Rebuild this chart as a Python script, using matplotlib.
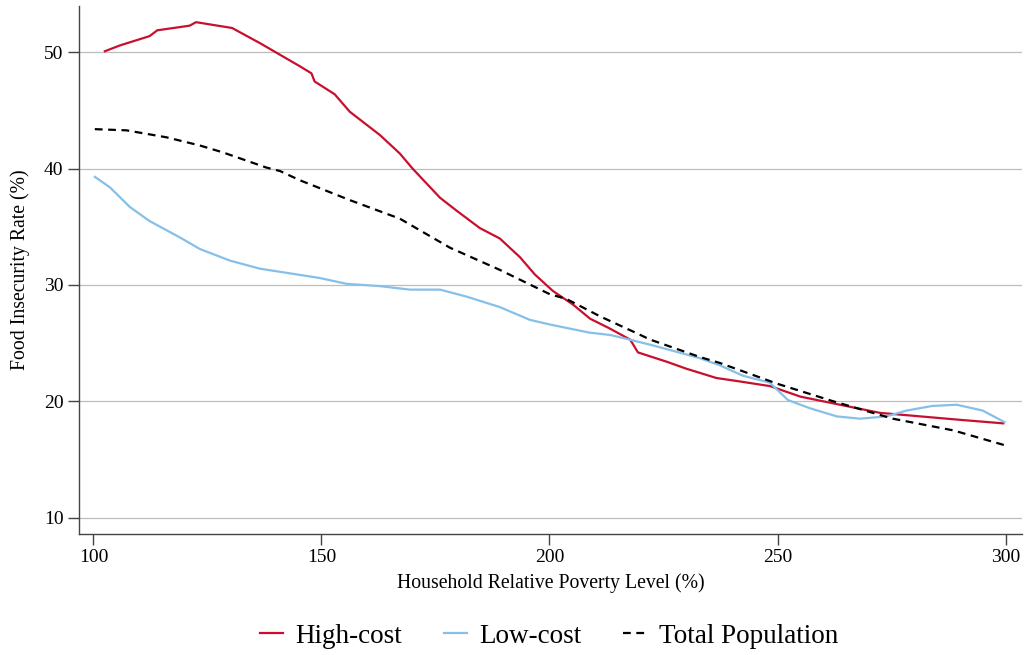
import matplotlib.pyplot as plt

plt.rcParams['font.family'] = ['Liberation Serif', 'DejaVu Serif']

# poverty level (%) and food insecurity rate (%) for each group
high_x = [102.5, 105.8, 112.3, 114.0, 121.1, 122.5, 130.4, 136.5, 145.3, 147.8, 148.5,
          152.9, 156.2, 162.8, 167.2, 170.0, 176.0, 179.6, 184.7, 189.1, 193.5,
          196.8, 200.7, 205.2, 208.9, 213.0, 217.7, 219.4, 225.7, 230.0, 236.6,
          241.8, 248.4, 255.0, 263.7, 272.5, 281.3, 290.1, 299.5]
high_y = [50.1, 50.6, 51.4, 51.9, 52.3, 52.6, 52.1, 50.8, 48.8, 48.2, 47.5,
          46.4, 44.9, 42.9, 41.3, 40.0, 37.5, 36.4, 34.9, 34.0, 32.4,
          30.9, 29.5, 28.3, 27.1, 26.3, 25.3, 24.2, 23.4, 22.8, 22.0,
          21.7, 21.3, 20.4, 19.7, 19.0, 18.7, 18.4, 18.1]

low_x = [100.3, 103.6, 108.0, 112.3, 118.9, 123.3, 129.9, 136.5, 143.1, 149.6,
         155.5, 162.8, 169.4, 176.0, 181.8, 189.1, 195.7, 200.1, 208.8, 213.3,
         217.6, 222.7, 229.3, 233.0, 237.3, 242.4, 248.3, 252.3, 257.1, 263.0,
         268.1, 273.9, 278.3, 284.0, 289.3, 295.0, 299.8]
low_y = [39.3, 38.4, 36.7, 35.5, 34.1, 33.1, 32.1, 31.4, 31.0, 30.6,
         30.1, 29.9, 29.6, 29.6, 29.0, 28.1, 27.0, 26.6, 25.9, 25.7,
         25.3, 24.8, 24.1, 23.7, 23.1, 22.2, 21.6, 20.1, 19.4, 18.7,
         18.5, 18.7, 19.2, 19.6, 19.7, 19.2, 18.2]

total_x = [100.3, 107.2, 116.0, 123.3, 128.4, 130.6, 137.9, 140.9, 145.3, 156.2,
           167.2, 178.2, 189.1, 200.1, 203.7, 211.1, 218.3, 222.1, 233.0, 237.3,
           250.0, 262.2, 275.3, 288.5, 300.0]
total_y = [43.4, 43.3, 42.7, 42.0, 41.4, 41.1, 40.1, 39.8, 39.0, 37.3,
           35.7, 33.2, 31.3, 29.2, 28.8, 27.3, 26.0, 25.3, 23.8, 23.3,
           21.5, 20.0, 18.5, 17.5, 16.2]

x_ticks = [100, 150, 200, 250, 300]
y_ticks = [10, 20, 30, 40, 50]

fig = plt.figure(figsize=(10.24, 6.55), dpi=100)
ax = fig.add_axes([0.077, 0.185, 0.921, 0.806])

ax.plot(high_x, high_y, color='#C8102E', lw=1.6, label='High-cost')
ax.plot(low_x, low_y, color='#86BFE8', lw=1.6, label='Low-cost')
ax.plot(total_x, total_y, color='black', lw=1.6, ls=(0, (3.5, 2.5)),
        label='Total Population')

ax.set_xlim(96.8, 303.6)
ax.set_ylim(8.6, 54.0)
ax.set_xticks(x_ticks)
ax.set_yticks(y_ticks)
ax.grid(axis='y', color='#BDBDBD', lw=0.9)
ax.set_axisbelow(True)

for side in ['top', 'right']:
    ax.spines[side].set_visible(False)
for side in ['left', 'bottom']:
    ax.spines[side].set_color('#444444')
    ax.spines[side].set_linewidth(1.0)
ax.tick_params(direction='out', length=8, width=1.0, color='#444444',
               labelsize=14, pad=3)

ax.set_xlabel('Household Relative Poverty Level (%)', fontsize=14.2, labelpad=5)
ax.set_ylabel('Food Insecurity Rate (%)', fontsize=14.2, labelpad=10)

fig.legend(loc='center', bbox_to_anchor=(0.536, 0.029), ncol=3,
           frameon=False, fontsize=19.5, handlelength=0.85, columnspacing=1.55,
           handletextpad=0.45)

fig.savefig('out.png', dpi=100)
